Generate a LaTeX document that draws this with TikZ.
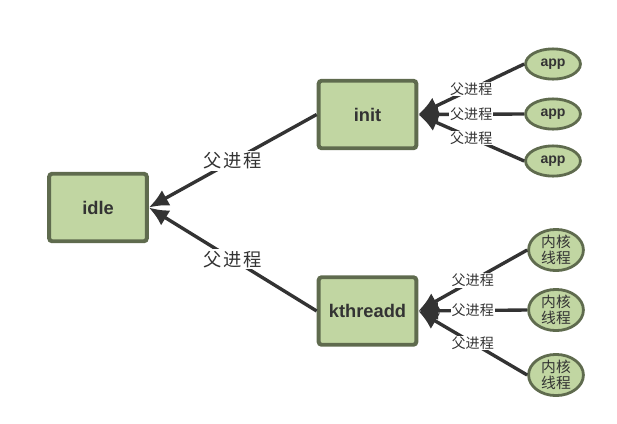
\documentclass[tikz,border=0pt]{standalone}
\usepackage{fontspec}
\setmainfont{Liberation Sans}
\newfontfamily\cjk{Noto Sans CJK SC}
\usetikzlibrary{arrows.meta,shapes.geometric}
\definecolor{boxgreen}{HTML}{C1D6A2}
\definecolor{boxborder}{HTML}{5F6B4E}
\definecolor{linegray}{HTML}{333333}

\begin{document}
\begin{tikzpicture}
    [x=0.025cm, y=-0.025cm,
    post/.style={-{Latex[length=14pt,width=12.5pt]},
                 linegray,
                 line width=2.4pt},
    kid/.style={-{Latex[length=14pt,width=13pt]},
                linegray,
                line width=2.4pt},
    tag/.style={fill=white,
                inner sep=0.5pt,
                text=linegray,
                font=\cjk\fontsize{10}{11}\selectfont},
    bigtag/.style={fill=white,
                   inner sep=1pt,
                   text=linegray,
                   font=\cjk\fontsize{13}{15}\selectfont\addfontfeature{LetterSpace=8}},
    ob/.style={rectangle,
               draw=boxborder,
               fill=boxgreen,
               line width=2.8pt,
               minimum width=69.5pt,
               minimum height=48pt,
               rounded corners=0.75mm,
               text=linegray,
               font=\bfseries\fontsize{13}{15}\selectfont},
    leaf/.style={ellipse,
                 draw=boxborder,
                 fill=boxgreen,
                 line width=2pt,
                 inner sep=0pt,
                 minimum width=39pt,
                 minimum height=21.5pt,
                 text=linegray,
                 align=center}]
    \useasboundingbox (0,0) rectangle (617,423);
    \node [ob] (idle) at (98,207.5) {idle};
    \node [ob] (init) at (367.5,114.5) {init};
    \node [ob] (kthreadd) at (367.5,311) {kthreadd};
    % user space children
    \node [leaf,
           font=\bfseries\fontsize{10}{11}\selectfont] (app1) at (553,64) {app};
    \node [leaf,
           font=\bfseries\fontsize{10}{11}\selectfont] (app2) at (553,114) {app};
    \node [leaf,
           font=\bfseries\fontsize{10}{11}\selectfont] (app3) at (553,161) {app};
    % kernel threads
    \node [leaf,
           minimum height=23.5pt,
           font=\cjk\fontsize{10.5}{11}\selectfont] (kt1) at (556,250) {内核\\线程};
    \node [leaf,
           minimum height=23.5pt,
           font=\cjk\fontsize{10.5}{11}\selectfont] (kt2) at (556,310) {内核\\线程};
    \node [leaf,
           minimum height=23.5pt,
           font=\cjk\fontsize{10.5}{11}\selectfont] (kt3) at (556,375) {内核\\线程};
    \draw[post] (init.west) -- (idle.east) node [pos=.5,bigtag] {父进程};
    \draw[post] (kthreadd.west) -- (idle.east) node [pos=.5,bigtag] {父进程};
    \draw[kid] (app1.west) -- (init.east) node [pos=.5,tag] {父进程};
    \draw[kid] (app2.west) -- (init.east) node [pos=.5,tag] {父进程};
    \draw[kid] (app3.west) -- (init.east) node [pos=.5,tag] {父进程};
    \draw[kid] (kt1.west) -- (kthreadd.east) node [pos=.5,tag] {父进程};
    \draw[kid] (kt2.west) -- (kthreadd.east) node [pos=.5,tag] {父进程};
    \draw[kid] (kt3.west) -- (kthreadd.east) node [pos=.5,tag] {父进程};
\end{tikzpicture}
\end{document}
